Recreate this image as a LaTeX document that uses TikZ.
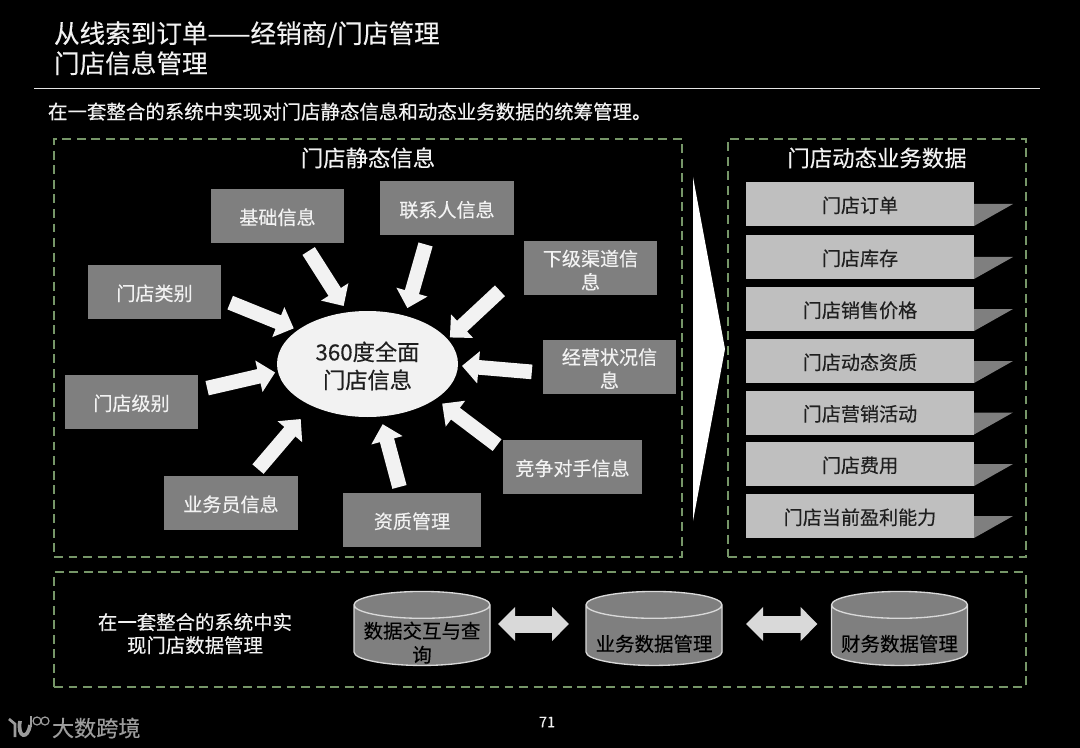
\documentclass[tikz,border=0pt]{standalone}
\usepackage{fontspec}
\setmainfont{Noto Sans CJK SC}[FakeBold=0.3]
\usepackage{tikz}
\usetikzlibrary{arrows.meta, positioning, calc, shapes.geometric}
\definecolor{PanelGreen}{HTML}{769668}
\definecolor{BoxGray}{HTML}{7F7F7F}
\definecolor{RowGray}{HTML}{BFBFBF}
\definecolor{ArrowWhite}{HTML}{F2F2F2}
\definecolor{InkDark}{HTML}{1F1F1F}
\definecolor{TwoWayGray}{HTML}{D9D9D9}
\definecolor{LogoGray}{HTML}{9C9C9C}
\tikzset{
    panel/.style={draw=PanelGreen, line width=1.5pt, dash pattern=on 6.7pt off 4.2pt, inner sep=0pt, outer sep=0pt},
    infobox/.style={fill=BoxGray, text=ArrowWhite, minimum width=100pt, minimum height=40.5pt, inner sep=1pt, outer sep=0pt, align=center, text height=14pt, font=\fontsize{14.3}{17.5}\selectfont},
    twolines/.style={text height=32.5pt, text depth=1.5pt},
    rowbox/.style={fill=RowGray, text=InkDark, minimum width=171pt, minimum height=33pt, inner sep=0pt, outer sep=0pt, text height=14pt, font=\fontsize{14.3}{17}\selectfont},
    rowtail/.style={fill=BoxGray},
    fatarrow/.style={draw=ArrowWhite, fill=ArrowWhite, line width=11pt, -{Triangle[length=12.5pt,width=23.5pt]}},
    drum/.style={cylinder, shape border rotate=90, aspect=0.23, draw=TwoWayGray, fill=BoxGray, line width=1pt, cylinder uses custom fill, cylinder body fill=BoxGray, cylinder end fill=BoxGray, minimum width=102pt, minimum height=55.5pt, inner sep=0pt, outer sep=0pt, text=black, text height=23.5pt, text depth=-4.7pt, font=\fontsize{14.6}{18}\selectfont},
    twoway/.style={draw=TwoWayGray, fill=TwoWayGray, line width=12.75pt, {Triangle[length=12.75pt,width=24.75pt]}-{Triangle[length=12.75pt,width=24.75pt]}},
    plaintext/.style={text=ArrowWhite, inner sep=0pt, outer sep=0pt}
}
\begin{document}
\begin{tikzpicture}[x=0.75pt, y=-0.75pt]
    \useasboundingbox[fill=black] (0,0) rectangle (1080,748);
    % title block
    \node[plaintext, anchor=base west, font=\fontsize{19.2}{22}\selectfont] (title) at (54,43) {从线索到订单——经销商/门店管理};
    \node[plaintext, anchor=base west, font=\fontsize{19.2}{22}\selectfont] (subtitle) at (54,73) {门店信息管理};
    \draw[white!90!black, line width=1.2pt] (34,88.5) -- (1040,88.5);
    \node[plaintext, anchor=base west, font=\fontsize{14.6}{17}\selectfont] (intro) at (48,119) {在一套整合的系统中实现对门店静态信息和动态业务数据的统筹管理。};

    % dashed panels
    \node[panel, minimum width=471pt, minimum height=313.5pt] (staticpanel) at (368,348) {};
    \node[panel, minimum width=223.5pt, minimum height=313.5pt] (dynamicpanel) at (877,348) {};
    \node[panel, minimum width=729pt, minimum height=86.25pt] (bottompanel) at (540,629.5) {};
    \node[plaintext, anchor=base, font=\fontsize{16.8}{18}\selectfont] (statictitle) at (368,166.5) {门店静态信息};
    \node[plaintext, anchor=base, font=\fontsize{16.8}{18}\selectfont] (dynamictitle) at (877,166.5) {门店动态业务数据};

    % hub and the boxes round it
    \node[ellipse, fill=ArrowWhite, text=InkDark, minimum width=135.75pt, minimum height=79.5pt, inner sep=0pt, outer sep=0pt, align=center, text height=38.6pt, text depth=2pt, font=\fontsize{16.7}{21}\selectfont] (hub) at (367.5,364) {360度全面\\门店信息};
    \node[infobox] (jichu) at (277.5,216) {基础信息};
    \node[infobox] (lianxi) at (447,208.5) {联系人信息};
    \node[infobox, twolines] (xiaji) at (590.5,268.5) {下级渠道信\\息};
    \node[infobox, twolines] (jingying) at (609.5,367) {经营状况信\\息};
    \node[infobox, minimum width=104pt] (jingzheng) at (572.5,467) {竞争对手信息};
    \node[infobox, minimum width=103.5pt] (zizhi) at (412,520) {资质管理};
    \node[infobox] (yewu) at (231,503) {业务员信息};
    \node[infobox] (jibie) at (131.5,402) {门店级别};
    \node[infobox] (leibie) at (154.5,292) {门店类别};

    \draw[fatarrow, shorten <=7.1pt, shorten >=5.6pt] (jichu.-46.8) -- (hub.111.6);
    \draw[fatarrow, shorten <=7pt, shorten >=6pt] (lianxi.-125.9) -- (hub.52.3);
    \draw[fatarrow, shorten <=24.5pt, shorten >=2.2pt] (xiaji.west) -- (hub.17.5);
    \draw[fatarrow, shorten <=8.3pt, shorten >=3pt] (jingying.185.1) -- (hub.-1);
    \draw[fatarrow, shorten <=5.7pt, shorten >=6pt] (jingzheng.166.7) -- (hub.-27.2);
    \draw[fatarrow, shorten <=4.7pt, shorten >=6pt] (zizhi.112.9) -- (hub.-76.7);
    \draw[fatarrow, shorten <=6.8pt, shorten >=13pt] (yewu.52) -- (hub.-143.5);
    \draw[fatarrow, shorten <=6.9pt, shorten >=2.2pt] (jibie.10.9) -- (hub.-175.3);
    \draw[fatarrow, shorten <=7.3pt, shorten >=3.4pt] (leibie.-6.3) -- (hub.154.7);

    % big arrow between the panels
    \fill[white] (693,177) -- (725,349) -- (693,521) -- cycle;

    % rows on the right
    \foreach \rowy/\rowname/\rowtext in {204/rowa/门店订单, 257/rowb/门店库存, 309/rowc/门店销售价格, 361/rowd/门店动态资质, 412.5/rowe/门店营销活动, 464/rowf/门店费用, 516/rowg/门店当前盈利能力} {
        \fill[rowtail] (974,\rowy) -- (1013,\rowy) -- (974,\rowy+22) -- cycle;
        \node[rowbox] (\rowname) at (860,\rowy) {\rowtext};
    }

    % bottom row
    \node[plaintext, align=center, text height=14pt, font=\fontsize{14.55}{17.25}\selectfont] (summary) at (195,644) {在一套整合的系统中实\\现门店数据管理};
    \node[drum] (query) at (422,635.5) {\raisebox{-8.25pt}{\begin{tabular}[b]{@{}c@{}}数据交互与查\\询\end{tabular}}};
    \node[drum] (business) at (654,635.5) {业务数据管理};
    \node[drum] (finance) at (899.5,635.5) {财务数据管理};
    \draw[twoway, shorten <=6pt, shorten >=12.75pt] ($(query.east)+(0,-11.5)$) -- ($(business.west)+(0,-11.5)$);
    \draw[twoway, shorten <=18pt, shorten >=10.5pt] ($(business.east)+(0,-11.5)$) -- ($(finance.west)+(0,-11.5)$);

    % footer
    \node[plaintext, font=\fontsize{11}{13}\selectfont] (pagenum) at (547,722) {71};
    \node[plaintext, text=LogoGray, anchor=west, font=\fontsize{16.6}{19}\selectfont] (brand) at (52,728) {大数跨境};
    \draw[LogoGray, line width=2pt] (9,719) -- (15,724) -- (15,737);
    \draw[LogoGray, line width=2.8pt] (20,721) .. controls (17,738) and (28,740) .. (30,725);
    \draw[LogoGray, line width=0.9pt] (31,716) -- (31,727);
    \draw[LogoGray, line width=0.9pt] (37,721) circle (4) (45,721) circle (4);
\end{tikzpicture}
\end{document}
